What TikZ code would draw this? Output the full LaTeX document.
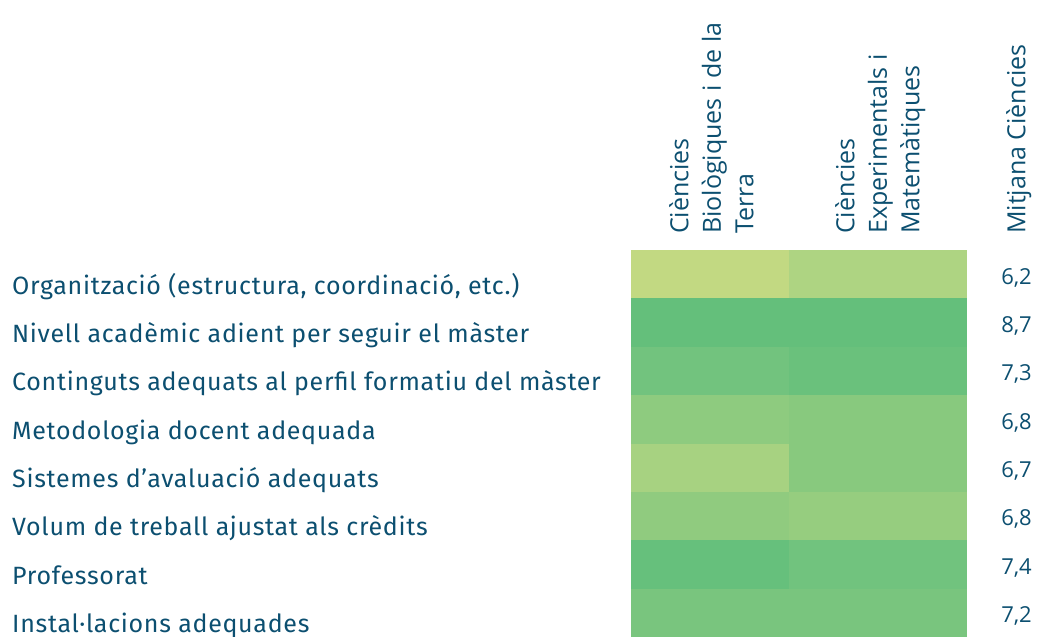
\documentclass[tikz,border=0pt]{standalone}
\usepackage{fontspec}
\setmainfont{Open Sans}
\newfontfamily\rowfont[LetterSpace=2.8]{Fira Sans}
\usetikzlibrary{positioning}

\definecolor{txtblue}{RGB}{12,79,112}
\definecolor{ca1}{HTML}{C2D982}
\definecolor{cb1}{HTML}{AED482}
\definecolor{ca2}{HTML}{64BF7B}
\definecolor{cb2}{HTML}{64BF7B}
\definecolor{ca3}{HTML}{72C37E}
\definecolor{cb3}{HTML}{6AC17C}
\definecolor{ca4}{HTML}{8ECB7F}
\definecolor{cb4}{HTML}{88C97E}
\definecolor{ca5}{HTML}{A7D281}
\definecolor{cb5}{HTML}{88C97E}
\definecolor{ca6}{HTML}{90CB7F}
\definecolor{cb6}{HTML}{96CD7F}
\definecolor{ca7}{HTML}{66C07C}
\definecolor{cb7}{HTML}{71C37E}
\definecolor{ca8}{HTML}{79C57E}
\definecolor{cb8}{HTML}{79C57E}

\tikzset{
  rowlab/.style={anchor=base west, inner sep=0pt, text=txtblue, font={\rowfont\fontsize{25}{30}\selectfont}},
  mean/.style={anchor=base east, inner sep=0pt, text=txtblue, font={\fontsize{22}{26}\selectfont}},
  head/.style={rotate=90, anchor=north west, inner sep=0pt, align=left, text=txtblue, font={\fontsize{25}{32.5}\selectfont}}
}

\begin{document}
\begin{tikzpicture}[x=1pt,y=-1pt]
    \useasboundingbox (0,0) rectangle (1037,637);

    \foreach \lab/\val [count=\i] in {
        {Organització (estructura, coordinació, etc.)}/{6,2},
        {Nivell acadèmic adient per seguir el màster}/{8,7},
        {Continguts adequats al perfil formatiu del màster}/{7,3},
        {Metodologia docent adequada}/{6,8},
        {Sistemes d’avaluació adequats}/{6,7},
        {Volum de treball ajustat als crèdits}/{6,8},
        {Professorat}/{7,4},
        {Instal·lacions adequades}/{7,2}}{
      \fill[ca\i] (631,201.625+48.375*\i) rectangle (789,250+48.375*\i);
      \fill[cb\i] (789,201.625+48.375*\i) rectangle (967,250+48.375*\i);
      \node[rowlab] (lab\i) at (12,245.625+48.375*\i) {\lab};
      \node[mean] (val\i) at (1032,235.625+48.375*\i) {\val};
    }

    \node[head] (hbio) at (669,234) {Ciències\\Biològiques i de la\\Terra};
    \node[head] (hexp) at (835,234) {Ciències\\Experimentals i\\Matemàtiques};
    \node[head] (hmit) at (1006,234) {Mitjana Ciències};
\end{tikzpicture}
\end{document}
